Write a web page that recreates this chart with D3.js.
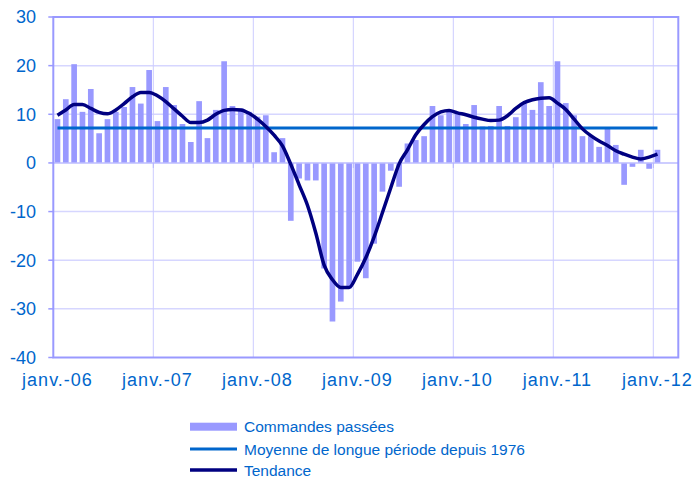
<!DOCTYPE html>
<html>
<head>
<meta charset="utf-8">
<script src="https://cdn.jsdelivr.net/npm/d3@7"></script>
<style>
  html, body { margin: 0; padding: 0; background: #ffffff; }
  svg { display: block; }
  text { font-family: "Liberation Sans", Arial, sans-serif; }
</style>
</head>
<body>
<svg id="chart" width="695" height="478"></svg>
<script>
// ---------------- DATA ----------------
// Monthly categories Jan 2006 .. Mar 2012 (75 categories, data until Jan 2012)
const startYear = 2006;
const nCategories = 75;

const commandes = [
  9.0, 13.1, 20.3, 10.5, 15.2, 6.1, 9.0, 10.5, 11.5, 15.6, 12.2, 19.1,      // 2006
  8.6, 15.6, 11.9, 8.0, 4.3, 12.7, 5.1, 10.9, 20.9, 11.7, 11.2, 10.5,       // 2007
  9.5, 9.8, 2.2, 5.1, -11.9, -3.2, -3.6, -3.6, -21.7, -32.6, -28.5, -25.8,  // 2008
  -20.3, -23.7, -16.6, -5.9, -1.6, -4.9, 4.0, 4.7, 5.5, 11.7, 9.8, 10.7,    // 2009
  10.0, 8.0, 11.9, 7.5, 7.6, 11.7, 7.6, 9.4, 12.2, 10.9, 16.6, 11.7,        // 2010
  20.9, 12.3, 9.8, 5.5, 5.5, 3.3, 7.0, 3.7, -4.5, -0.8, 2.7, -1.2,          // 2011
  2.7                                                                        // 2012
];

const tendance = [
  9.8, 10.9, 12.0, 12.0, 11.2, 10.4, 10.1, 10.9, 12.2, 13.6, 14.5, 14.5,
  13.8, 12.6, 11.1, 9.6, 8.3, 8.3, 8.8, 10.0, 10.8, 11.0, 10.9, 10.2,
  9.0, 7.5, 5.7, 3.5, -0.3, -4.5, -8.7, -14.4, -21.0, -24.0, -25.6, -25.6,
  -22.9, -19.5, -15.2, -10.2, -5.1, -0.2, 2.7, 5.8, 7.9, 9.5, 10.5, 10.8,
  10.3, 9.9, 9.4, 9.0, 8.7, 8.8, 9.7, 11.2, 12.4, 13.0, 13.3, 13.4,
  12.3, 11.0, 9.0, 7.0, 5.6, 4.5, 3.6, 2.5, 1.8, 1.2, 0.8, 1.2,
  1.8
];

const moyenne = 7.2;

const yTicks = [30, 20, 10, 0, -10, -20, -30, -40];
const xTickLabels = ["janv.-06", "janv.-07", "janv.-08", "janv.-09", "janv.-10", "janv.-11", "janv.-12"];

const legendLabels = ["Commandes passées", "Moyenne de longue période depuis 1976", "Tendance"];

// ---------------- LAYOUT ----------------
const colors = {
  bar: "#9999ff",
  moyenne: "#0066cc",
  tendance: "#000080",
  text: "#0066cc",
  grid: "#d6d6ff",
  vgrid: "#ccccff",
  axis: "#9999ff"
};

const plot = { left: 53.3, right: 678.3, top: 17, bottom: 357.5 };

const categories = d3.range(nCategories).map(i => {
  const y = startYear + Math.floor(i / 12);
  const m = i % 12;
  return y + "-" + String(m + 1).padStart(2, "0");
});

const x = d3.scaleBand()
  .domain(categories)
  .range([plot.left, plot.right])
  .paddingInner(0.32)
  .paddingOuter(0.16);

const y = d3.scaleLinear()
  .domain([-40, 30])
  .range([plot.bottom, plot.top]);

const step = x.step();
const bandStart = c => x(c) - (step - x.bandwidth()) / 2;
const center = c => x(c) + x.bandwidth() / 2;

const svg = d3.select("#chart");

// horizontal gridlines
svg.append("g")
  .selectAll("line")
  .data(yTicks.filter(t => t !== 0 && t !== -40 && t !== 30))
  .join("line")
  .attr("x1", plot.left).attr("x2", plot.right)
  .attr("y1", d => y(d)).attr("y2", d => y(d))
  .attr("stroke", colors.grid).attr("stroke-width", 1.5);

// vertical gridlines at each January
const janCats = categories.filter((c, i) => i % 12 === 0);
svg.append("g")
  .selectAll("line")
  .data(janCats.slice(1))
  .join("line")
  .attr("x1", d => bandStart(d)).attr("x2", d => bandStart(d))
  .attr("y1", plot.top).attr("y2", plot.bottom)
  .attr("stroke", colors.vgrid).attr("stroke-width", 1);

// bars
const barData = commandes.map((v, i) => ({ c: categories[i], v }));
svg.append("g")
  .selectAll("rect")
  .data(barData)
  .join("rect")
  .attr("x", d => x(d.c))
  .attr("width", x.bandwidth())
  .attr("y", d => y(Math.max(0, d.v)))
  .attr("height", d => Math.abs(y(d.v) - y(0)))
  .attr("fill", colors.bar);

// zero (category) axis with ticks at each January
svg.append("line")
  .attr("x1", plot.left).attr("x2", plot.right)
  .attr("y1", y(0)).attr("y2", y(0))
  .attr("stroke", "#bdbdff").attr("stroke-width", 1.5);
svg.append("g")
  .selectAll("line")
  .data(janCats.slice(1))
  .join("line")
  .attr("x1", d => bandStart(d)).attr("x2", d => bandStart(d))
  .attr("y1", y(0)).attr("y2", y(0) + 5)
  .attr("stroke", "#b3b3ff").attr("stroke-width", 1);

// plot-area border
svg.append("rect")
  .attr("x", plot.left).attr("y", plot.top)
  .attr("width", plot.right - plot.left).attr("height", plot.bottom - plot.top)
  .attr("fill", "none").attr("stroke", colors.axis).attr("stroke-width", 2);

// y-axis ticks + labels
const yAxis = svg.append("g");
yAxis.selectAll("line")
  .data(yTicks)
  .join("line")
  .attr("x1", plot.left - 5).attr("x2", plot.left)
  .attr("y1", d => y(d)).attr("y2", d => y(d))
  .attr("stroke", colors.axis).attr("stroke-width", 1.5);
yAxis.selectAll("text")
  .data(yTicks)
  .join("text")
  .attr("x", 36)
  .attr("y", d => y(d))
  .attr("dy", "0.36em")
  .attr("text-anchor", "end")
  .attr("font-size", 18)
  .attr("fill", colors.text)
  .text(d => d);

// moyenne line
const moyLine = d3.line().x(d => center(d)).y(() => y(moyenne));
svg.append("path")
  .datum([categories[0], categories[commandes.length - 1]])
  .attr("d", moyLine)
  .attr("fill", "none")
  .attr("stroke", colors.moyenne)
  .attr("stroke-width", 3);

// tendance line
const trendLine = d3.line()
  .x((d, i) => center(categories[i]))
  .y(d => y(d))
  .curve(d3.curveMonotoneX);
svg.append("path")
  .datum(tendance)
  .attr("d", trendLine)
  .attr("fill", "none")
  .attr("stroke", colors.tendance)
  .attr("stroke-width", 3.5)
  .attr("stroke-linejoin", "round");

// x labels
svg.append("g")
  .selectAll("text")
  .data(janCats.map((c, i) => ({ c, label: xTickLabels[i] })))
  .join("text")
  .attr("x", d => center(d.c))
  .attr("y", 386)
  .attr("text-anchor", "middle")
  .attr("font-size", 18)
  .attr("letter-spacing", 1)
  .attr("fill", colors.text)
  .text(d => d.label);

// legend
const legend = svg.append("g");
const legY = [426.7, 449, 470];
legend.append("rect")
  .attr("x", 190).attr("y", legY[0] - 4).attr("width", 47).attr("height", 8)
  .attr("fill", colors.bar);
legend.append("line")
  .attr("x1", 190).attr("x2", 237).attr("y1", legY[1]).attr("y2", legY[1])
  .attr("stroke", colors.moyenne).attr("stroke-width", 3);
legend.append("line")
  .attr("x1", 190).attr("x2", 237).attr("y1", legY[2]).attr("y2", legY[2])
  .attr("stroke", colors.tendance).attr("stroke-width", 3.5);
legend.selectAll("text")
  .data(legendLabels)
  .join("text")
  .attr("x", 244)
  .attr("y", (d, i) => legY[i] + 5.5)
  .attr("font-size", 15.5)
  .attr("fill", colors.text)
  .text(d => d);
</script>
</body>
</html>
